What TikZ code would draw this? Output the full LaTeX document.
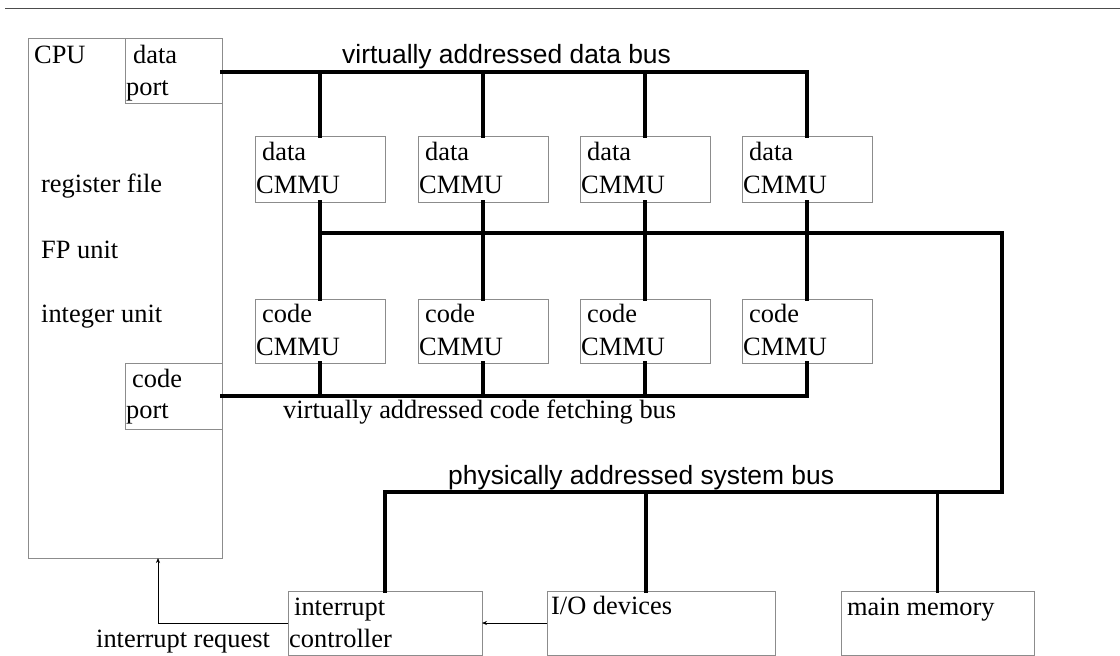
\documentclass[tikz,border=0pt]{standalone}
\usepackage{fontspec}
\setmainfont{Liberation Serif}
\setsansfont{Liberation Sans}
\usetikzlibrary{arrows.meta,calc}
\begin{document}
\begin{tikzpicture}[x=1pt,y=-1pt,
  box/.style={draw=black!45,line width=0.8pt,inner sep=0pt,outer sep=0pt,anchor=north west},
  txt/.style={font=\fontsize{26.4}{33}\selectfont,inner sep=0pt,anchor=base west},
  stxt/.style={font=\sffamily\fontsize{26.4}{33}\selectfont,inner sep=0pt,anchor=base west},
  bus/.style={line width=3.6pt,line cap=rect,line join=miter},
  arr/.style={line width=0.7pt,-{Stealth[length=5pt,width=4pt]}}]
\useasboundingbox (0,0) rectangle (1120,656);
\draw[black!70,line width=0.8pt] (5,8) -- (1120,8);
% CPU
\node[box,minimum width=194,minimum height=520] (cpu) at (28,38) {};
\node[box,minimum width=97,minimum height=65] (dp) at (125,38) {};
\node[box,minimum width=97,minimum height=66] (cp) at (125,363) {};
\node[txt] (tcpu) at (34,63) {CPU};
\node[txt] (tdp1) at (133,63) {data};
\node[txt] (tdp2) at (126,95) {port};
\node[txt] (treg) at (41,192) {register file};
\node[txt] (tfp) at (41,258) {FP unit};
\node[txt] (tint) at (41,322) {integer unit};
\node[txt] (tcp1) at (132,387) {code};
\node[txt] (tcp2) at (126,418) {port};
% CMMUs
\foreach \xx/\i in {255/1,418/2,580/3,742/4}{
  \node[box,minimum width=130,minimum height=66] (d\i) at (\xx,136) {};
  \node[txt] (td\i a) at (\xx+7,160) {data};
  \node[txt] (td\i b) at (\xx+1,193) {CMMU};
  \node[box,minimum width=130,minimum height=64] (c\i) at (\xx,299) {};
  \node[txt] (tc\i a) at (\xx+7,322) {code};
  \node[txt] (tc\i b) at (\xx+1,355) {CMMU};
}
% bottom boxes
\node[box,minimum width=194,minimum height=64] (ic) at (288,591) {};
\node[box,minimum width=228,minimum height=64] (io) at (547,591) {};
\node[box,minimum width=193,minimum height=64] (mm) at (841,591) {};
\node[txt] (tic1) at (294,615) {interrupt};
\node[txt] (tic2) at (289,647) {controller};
\node[txt] (tio) at (551,614) {I/O devices};
\node[txt] (tmm) at (847,615) {main memory};
\node[txt] (tirq) at (96,647) {interrupt request};
% bus labels
\node[stxt] (ldb) at (342,63) {virtually addressed data bus};
\node[txt] (lcb) at (283,418) {virtually addressed code fetching bus};
\node[stxt] (lsb) at (448,484) {physically addressed system bus};
% coordinates
\coordinate (dbR) at (807,72);
\coordinate (cbR) at (807,396);
\coordinate (mbR) at (1002,233);
\coordinate (sbR) at (1002,492);
\coordinate (sbIO) at (646,492);
\coordinate (irq) at (0,623);
\coordinate (irqx) at (158,623);
% buses
\draw[bus] (dp.east |- dbR) -- (dbR);
\draw[bus] (cp.east |- cbR) -- (cbR);
\foreach \i in {1,2,3,4}{
  \draw[bus] (d\i.north |- dbR) -- (d\i.north);
  \draw[bus] (d\i.south) -- (c\i.north);
  \draw[bus] (c\i.south) -- (c\i.south |- cbR);
}
\draw[bus] (d1.south |- mbR) -- (mbR) -- (sbR) -- (ic.north |- sbR) -- (ic.north);
\draw[bus] (sbIO) -- (sbIO |- io.north);
\draw[bus] (mm.north |- sbR) -- (mm.north);
% arrows
\draw[arr] (io.west |- irq) -- (ic.east |- irq);
\draw[arr] (ic.west |- irq) -- (irqx) -- (irqx |- cpu.south);
\end{tikzpicture}
\end{document}
